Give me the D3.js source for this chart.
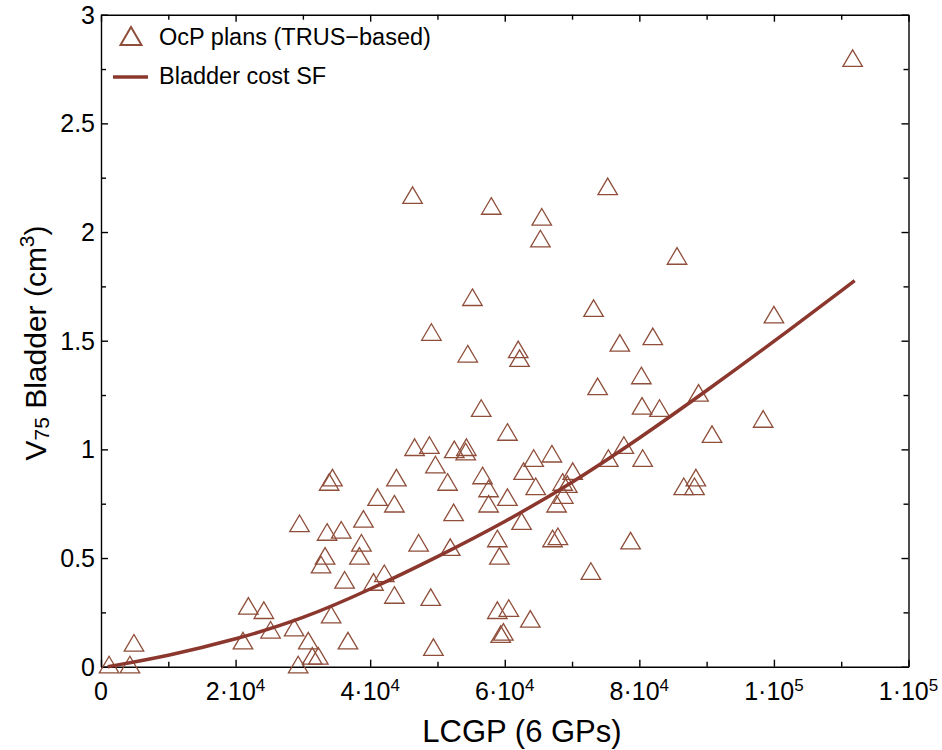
<!DOCTYPE html>
<html>
<head>
<meta charset="utf-8">
<script src="https://cdnjs.cloudflare.com/ajax/libs/d3/7.8.5/d3.min.js"></script>
<style>
  body { margin: 0; background: #fff; }
  text { font-family: "Liberation Sans", Arial, Helvetica, sans-serif; fill: #000; }
</style>
</head>
<body>
<div id="chart"></div>
<script>
// tick values and labels (label = [base, superscript])
const xTicks = [0, 20000, 40000, 60000, 80000, 100000, 120000];
const xTickLabels = [["0", ""], ["2·10", "4"], ["4·10", "4"], ["6·10", "4"], ["8·10", "4"], ["1·10", "5"], ["1·10", "5"]];
const yTicks = [0, 0.5, 1, 1.5, 2, 2.5, 3];
const yTickLabels = ["0", "0.5", "1", "1.5", "2", "2.5", "3"];

// OcP plans (TRUS-based): LCGP vs V75 bladder
const planX = [1200, 4300, 4900, 21900, 24200, 21100, 25200, 28700, 29300, 29500, 30800, 31400, 32300, 34200, 36700,
  32700, 33300, 33600, 33900, 34400, 35700, 36200, 39000, 38700, 38400, 40500, 41100, 42100, 43600, 43600, 43900,
  46600, 48800, 49700, 51500, 52400, 47200, 51900, 49000, 49400, 56500, 60400, 52500, 54200, 54300, 56700, 57600,
  57600, 60400, 62500, 58900, 59200, 58900, 60600, 63800, 59800, 59400, 64300, 67000, 62800, 64600, 70100, 68600,
  69300, 68700, 67700, 67100, 67900, 72800, 73800, 80400, 83000, 77700, 75400, 80500, 78700, 88800, 90800, 86600,
  88400, 88200, 46300, 58000, 65500, 65300, 75300, 85600, 55200, 49100, 54500, 62000, 62200, 73200, 77100, 82000,
  80300, 111700, 100000, 98400];
const planY = [0.01, 0.01, 0.11, 0.28, 0.26, 0.12, 0.17, 0.18, 0.01, 0.66, 0.12, 0.05, 0.05, 0.24, 0.12,
  0.47, 0.51, 0.62, 0.85, 0.87, 0.63, 0.40, 0.68, 0.57, 0.51, 0.39, 0.78, 0.43, 0.33, 0.75, 0.87,
  1.01, 1.02, 0.93, 0.85, 0.71, 0.57, 0.55, 0.32, 0.09, 1.19, 1.08, 1.00, 0.99, 1.01, 0.88, 0.82,
  0.75, 0.78, 0.67, 0.59, 0.51, 0.26, 0.27, 0.22, 0.16, 0.15, 0.96, 0.98, 0.90, 0.83, 0.90, 0.85,
  0.84, 0.79, 0.75, 0.59, 0.60, 0.44, 1.29, 1.20, 1.19, 1.02, 0.96, 0.96, 0.58, 1.26, 1.07, 0.83,
  0.87, 0.83, 2.17, 2.12, 2.07, 1.97, 2.21, 1.89, 1.70, 1.54, 1.44, 1.46, 1.42, 1.65, 1.49, 1.52,
  1.34, 2.80, 1.62, 1.14];

// Bladder cost SF
const curveX = [1000, 10000, 20000, 30000, 40000, 50000, 60000, 70000, 80000, 90000, 100000, 112000];
const curveY = [0, 0.05, 0.125, 0.22, 0.355, 0.505, 0.665, 0.845, 1.05, 1.27, 1.496, 1.776];

const width = 942, height = 750;
const markColor = "#8e4e3a";
const lineColor = "#8b372d";

const svg = d3.select("#chart").append("svg")
  .attr("width", width)
  .attr("height", height);

const x = d3.scaleLinear().domain([0, 120000]).range([101, 908.5]);
const y = d3.scaleLinear().domain([0, 3]).range([666.7, 14.7]);

const xMinor = d3.range(0, 120001, 10000).filter(v => !xTicks.includes(v));
const yMinor = d3.range(0, 3.001, 0.25).filter(v => !yTicks.some(t => Math.abs(t - v) < 1e-9));

// frame: axes on all four sides, ticks pointing inward
function drawAxis(axisFn, scale, transform, major, minor) {
  const g = svg.append("g").attr("transform", transform);
  g.call(axisFn(scale).tickValues(major).tickSize(-7).tickSizeOuter(0).tickFormat(""));
  g.append("g").call(axisFn(scale).tickValues(minor).tickSize(-5).tickSizeOuter(0).tickFormat(""))
    .select(".domain").remove();
  g.selectAll("path, line").attr("stroke", "#000").attr("stroke-width", 1.4);
  return g;
}
drawAxis(d3.axisBottom, x, `translate(0,${y(0)})`, xTicks, xMinor);
drawAxis(d3.axisTop, x, `translate(0,${y(3)})`, xTicks, xMinor);
drawAxis(d3.axisLeft, y, `translate(${x(0)},0)`, yTicks, yMinor);
drawAxis(d3.axisRight, y, `translate(${x(120000)},0)`, yTicks, yMinor);

// x tick labels with superscript exponents
const xLab = svg.append("g").selectAll("text")
  .data(xTicks)
  .join("text")
  .attr("x", d => x(d))
  .attr("y", 700)
  .attr("text-anchor", "middle")
  .attr("font-size", 25);
xLab.append("tspan").text((d, i) => xTickLabels[i][0]);
xLab.append("tspan").attr("dy", -9).attr("font-size", 17).text((d, i) => xTickLabels[i][1]);

// y tick labels
svg.append("g").selectAll("text")
  .data(yTicks)
  .join("text")
  .attr("x", 95)
  .attr("y", d => y(d))
  .attr("dy", "0.36em")
  .attr("text-anchor", "end")
  .attr("font-size", 25)
  .text((d, i) => yTickLabels[i]);

// axis titles
svg.append("text")
  .attr("x", 522)
  .attr("y", 742)
  .attr("text-anchor", "middle")
  .attr("font-size", 31)
  .text("LCGP (6 GPs)");

const yTitle = svg.append("text")
  .attr("transform", "translate(46,343) rotate(-90)")
  .attr("text-anchor", "middle")
  .attr("font-size", 30);
yTitle.append("tspan").text("V");
yTitle.append("tspan").attr("font-size", 21).attr("dy", 3).text("75");
yTitle.append("tspan").attr("dy", -3).text(" Bladder (cm");
yTitle.append("tspan").attr("font-size", 21).attr("dy", -12).text("3");
yTitle.append("tspan").attr("dy", 12).text(")");

// open triangle marker centred on its bounding box
const triangle = {
  draw(ctx, size) {
    const w = Math.sqrt(size), h = w * 0.85;
    ctx.moveTo(0, -h / 2);
    ctx.lineTo(w / 2, h / 2);
    ctx.lineTo(-w / 2, h / 2);
    ctx.closePath();
  }
};

svg.append("g").selectAll("path")
  .data(d3.zip(planX, planY))
  .join("path")
  .attr("transform", d => `translate(${x(d[0])},${y(d[1])})`)
  .attr("d", d3.symbol(triangle, 19.5 * 19.5))
  .attr("fill", "none")
  .attr("stroke", markColor)
  .attr("stroke-width", 1.3);

// fitted curve
const line = d3.line()
  .x(d => x(d[0]))
  .y(d => y(d[1]))
  .curve(d3.curveBasis);

svg.append("path")
  .datum(d3.zip(curveX, curveY))
  .attr("d", line)
  .attr("fill", "none")
  .attr("stroke", lineColor)
  .attr("stroke-width", 3.5);

// legend
const legend = svg.append("g");
legend.append("path")
  .attr("transform", "translate(131,36)")
  .attr("d", d3.symbol(triangle, 21 * 21))
  .attr("fill", "none")
  .attr("stroke", markColor)
  .attr("stroke-width", 2);
legend.append("text").attr("x", 159).attr("y", 45).attr("font-size", 23.5).text("OcP plans (TRUS−based)");
legend.append("line")
  .attr("x1", 113).attr("x2", 148)
  .attr("y1", 77).attr("y2", 77)
  .attr("stroke", lineColor)
  .attr("stroke-width", 3.5);
legend.append("text").attr("x", 159).attr("y", 84).attr("font-size", 23.5).text("Bladder cost SF");
</script>
</body>
</html>
